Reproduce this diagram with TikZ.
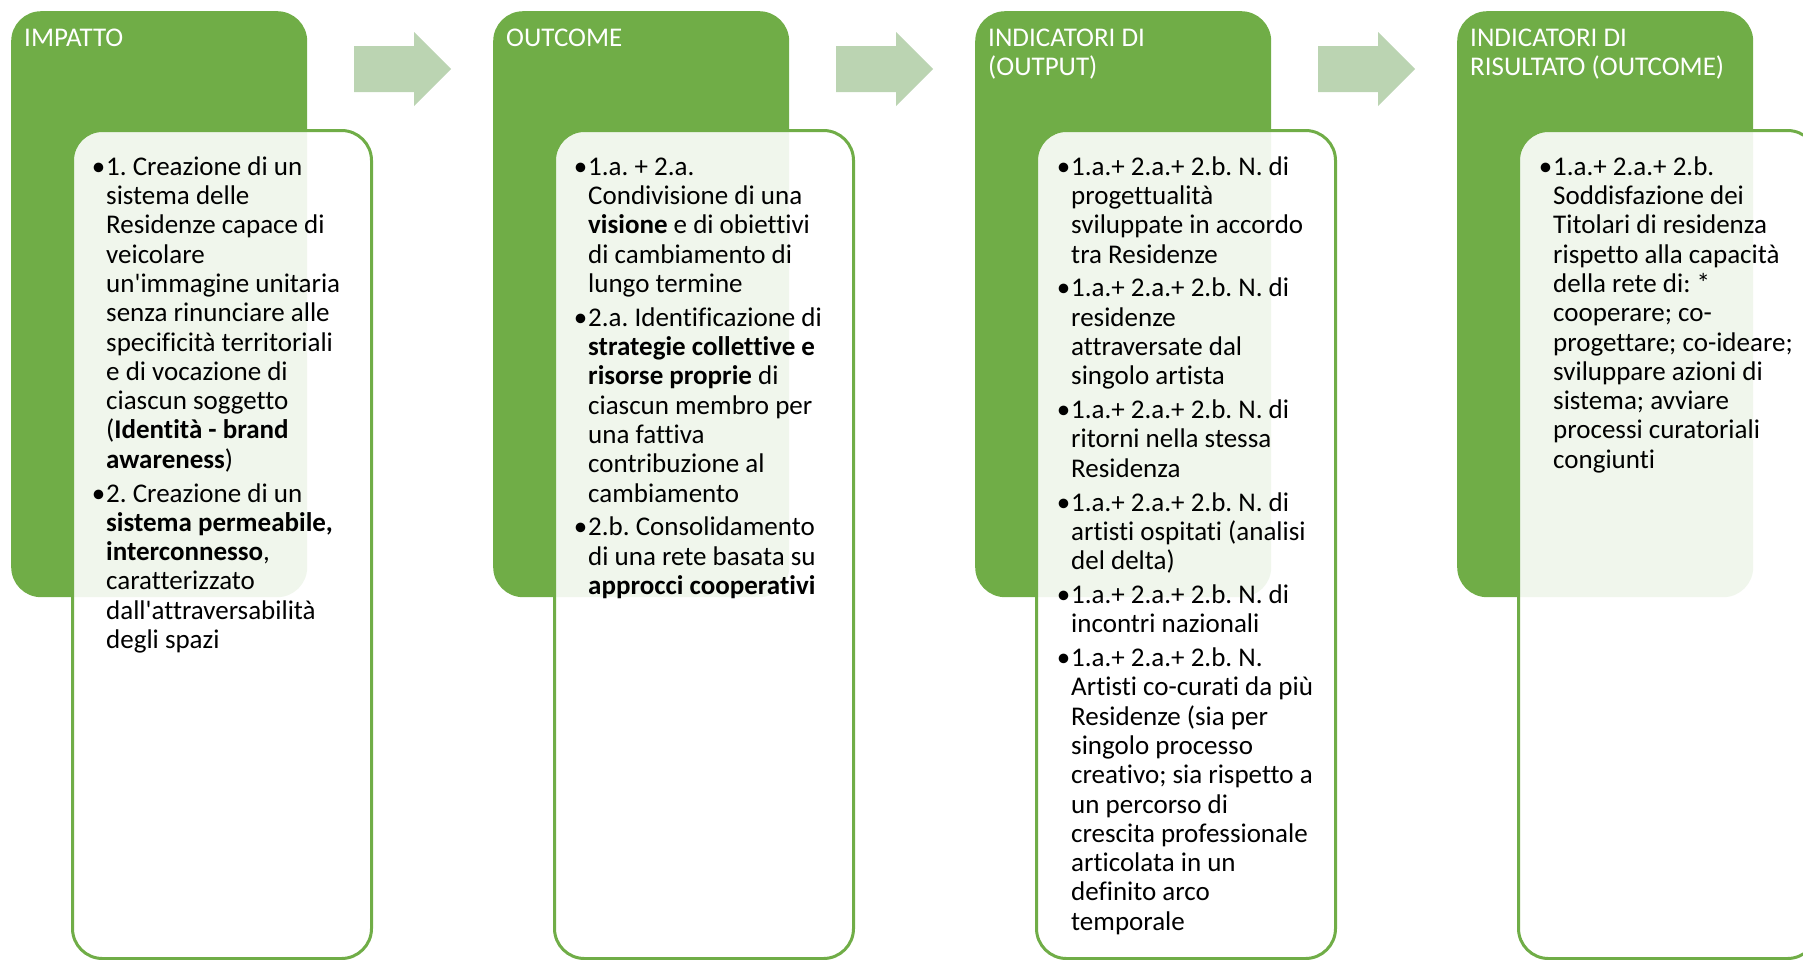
\documentclass[tikz,border=0pt]{standalone}
\usepackage{fontspec}
\setmainfont{Carlito}[Ligatures={TeX,NoCommon}]
\usetikzlibrary{positioning}
\definecolor{dkgreen}{HTML}{70AD47}
\definecolor{arrgreen}{RGB}{187,212,178}
\newcommand{\bul}{\llap{\textbullet\hspace{1pt}}}
\newcommand{\apo}{\textquotesingle}
\frenchspacing

\tikzset{
  head/.style={fill=dkgreen, rounded corners=30pt, inner sep=0pt,
    minimum width=296pt, minimum height=586pt, anchor=north west},
  body/.style={draw=dkgreen, line width=3pt, fill=white, fill opacity=0.9,
    rounded corners=30pt, inner sep=0pt,
    minimum width=299pt, minimum height=828pt, anchor=north west},
  bigarrow/.style={fill=arrgreen},
  title/.style={anchor=north west, text=white, align=left, inner sep=0pt,
    font=\fontsize{27}{29.3}\selectfont},
  items/.style={anchor=north west, align=left, inner sep=0pt,
    font=\fontsize{27}{29.3}\selectfont},
}

\begin{document}
\begin{tikzpicture}[x=1pt,y=-1pt]
  \useasboundingbox (0,0) rectangle (1803,959);

  % boxes
  \foreach \i/\name in {0/imp,1/out,2/esi,3/ris}
  {
  \node[head] (h\name) at (11+482*\i,11) {};
  \node[body] (b\name) at (71+482*\i,129) {};
  }

  % arrows
  \foreach \i in {0,1,2}
  {
  \fill[bigarrow] (354+482*\i,46) -- ++(60,0) -- ++(0,-14) -- ++(37,37)
    -- ++(-37,37) -- ++(0,-14) -- ++(-60,0) -- cycle;
  }

  % titles (first baseline at 46, strut height 20.5)
  \node[title] (timp) at (24,25.5) {\strut IMPATTO};
  \node[title] (tout) at (506,25.5) {\strut OUTCOME};
  \node[title] (tesi) at (988,25.5) {\strut INDICATORI DI\\(OUTPUT)};
  \node[title] (tris) at (1470,25.5) {\strut INDICATORI DI\\RISULTATO (OUTCOME)};

  % texts (first baseline at 175)
  \node[items] (ximp) at (106,154.5) {\strut\bul1. Creazione di un\\
    sistema delle\\
    Residenze capace di\\
    veicolare\\
    un\apo immagine unitaria\\
    senza rinunciare alle\\
    specificità territoriali\\
    e di vocazione di\\
    ciascun soggetto\\
    (\textbf{Identità - brand}\\
    \textbf{awareness})\\[4.5pt]
    \bul2. Creazione di un\\
    \textbf{sistema permeabile,}\\
    \textbf{interconnesso},\\
    caratterizzato\\
    dall\apo attraversabilità\\
    degli spazi};

  \node[items] (xout) at (588,154.5) {\strut\bul1.a. + 2.a.\\
    Condivisione di una\\
    \textbf{visione} e di obiettivi\\
    di cambiamento di\\
    lungo termine\\[4.5pt]
    \bul2.a. Identificazione di\\
    \textbf{strategie collettive e}\\
    \textbf{risorse proprie} di\\
    ciascun membro per\\
    una fattiva\\
    contribuzione al\\
    cambiamento\\[4.5pt]
    \bul2.b. Consolidamento\\
    di una rete basata su\\
    \textbf{approcci cooperativi}};

  \node[items] (xesi) at (1071,154.5) {\strut\bul1.a.+ 2.a.+ 2.b. N. di\\
    progettualità\\
    sviluppate in accordo\\
    tra Residenze\\[4.5pt]
    \bul1.a.+ 2.a.+ 2.b. N. di\\
    residenze\\
    attraversate dal\\
    singolo artista\\[4.5pt]
    \bul1.a.+ 2.a.+ 2.b. N. di\\
    ritorni nella stessa\\
    Residenza\\[4.5pt]
    \bul1.a.+ 2.a.+ 2.b. N. di\\
    artisti ospitati (analisi\\
    del delta)\\[4.5pt]
    \bul1.a.+ 2.a.+ 2.b. N. di\\
    incontri nazionali\\[4.5pt]
    \bul1.a.+ 2.a.+ 2.b. N.\\
    Artisti co-curati da più\\
    Residenze (sia per\\
    singolo processo\\
    creativo; sia rispetto a\\
    un percorso di\\
    crescita professionale\\
    articolata in un\\
    definito arco\\
    temporale};

  \node[items] (xris) at (1553,154.5) {\strut\bul1.a.+ 2.a.+ 2.b.\\
    Soddisfazione dei\\
    Titolari di residenza\\
    rispetto alla capacità\\
    della rete di: *\\
    cooperare; co-\\
    progettare; co-ideare;\\
    sviluppare azioni di\\
    sistema; avviare\\
    processi curatoriali\\
    congiunti};

\end{tikzpicture}
\end{document}
